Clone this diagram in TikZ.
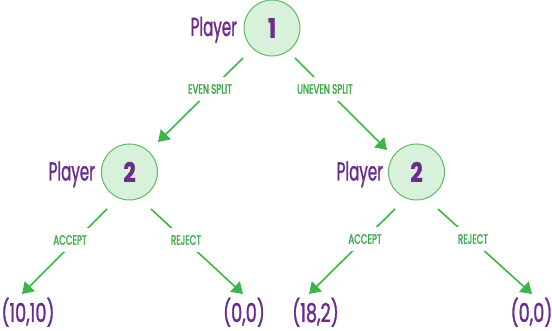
\documentclass[tikz,border=0pt]{standalone}
\usepackage{fontspec}
\usetikzlibrary{arrows.meta}
\newfontfamily\futu{Poppins}[FakeStretch=0.58,FakeBold=1.2]
\newfontfamily\futleaf{Poppins}[FakeStretch=0.68,FakeBold=1.2]
\newfontfamily\futlbl{Poppins}[FakeStretch=0.64,FakeBold=1.6]
\newfontfamily\futnum{Poppins}[FakeStretch=0.8,FakeBold=1]
\definecolor{purp}{HTML}{6B2D8B}
\definecolor{grn}{HTML}{3DB54A}
\definecolor{grnlbl}{HTML}{3DA84A}
\definecolor{cfill}{HTML}{D7F1DA}
\definecolor{cline}{HTML}{5DBB63}
\tikzset{
  player/.style={circle,draw=cline,fill=cfill,line width=1pt,minimum size=56pt,inner sep=0pt,
    font=\futnum\bfseries\fontsize{27}{27}\selectfont,text=purp},
  plabel/.style={anchor=base east,inner sep=0pt,font=\futu\fontsize{26}{26}\selectfont,text=purp},
  leaf/.style={anchor=base,inner sep=0pt,font=\futleaf\fontsize{26}{26}\selectfont,text=purp},
  elbl/.style={fill=white,inner xsep=2pt,inner ysep=7pt,font=\futlbl\fontsize{13.5}{13.5}\selectfont,text=grnlbl},
  edge/.style={draw=grn,line width=1.6pt,-{Triangle[length=11pt,width=14pt]}}
}
\begin{document}
\begin{tikzpicture}[x=1pt,y=-1pt]
\useasboundingbox (0,0) rectangle (552,331);
% players
\node[player] (p1) at (272,28) {1};
\node[player] (p2l) at (129.5,172) {2};
\node[player] (p2r) at (416.5,172) {2};
\node[plabel] (l1) at (237,36) {Player};
\node[plabel] (l2l) at (95,180.5) {Player};
\node[plabel] (l2r) at (383,180.5) {Player};
% leaves
\node[leaf] (a) at (28,322) {(10,10)};
\node[leaf] (b) at (244,322) {(0,0)};
\node[leaf] (c) at (315.5,322) {(18,2)};
\node[leaf] (d) at (531.5,322) {(0,0)};
% edge endpoints
\coordinate (s1) at (243,58);  \coordinate (t1) at (158,142);
\coordinate (s2) at (295,58);  \coordinate (t2) at (387,150);
\coordinate (s3) at (107,209); \coordinate (t3) at (22,294);
\coordinate (s4) at (151,209); \coordinate (t4) at (243,294);
\coordinate (s5) at (395,209); \coordinate (t5) at (309,294);
\coordinate (s6) at (438,209); \coordinate (t6) at (532,294);
\draw[edge] (s1) -- (t1);
\draw[edge] (s2) -- (t2);
\draw[edge] (s3) -- (t3);
\draw[edge] (s4) -- (t4);
\draw[edge] (s5) -- (t5);
\draw[edge] (s6) -- (t6);
% edge labels
\node[elbl] (e1) at (210,89) {EVEN SPLIT};
\node[elbl] (e2) at (325,89) {UNEVEN SPLIT};
\node[elbl] (e3) at (70,240) {ACCEPT};
\node[elbl] (e4) at (186,240) {REJECT};
\node[elbl] (e5) at (365,239) {ACCEPT};
\node[elbl] (e6) at (473,239) {REJECT};
\end{tikzpicture}
\end{document}
